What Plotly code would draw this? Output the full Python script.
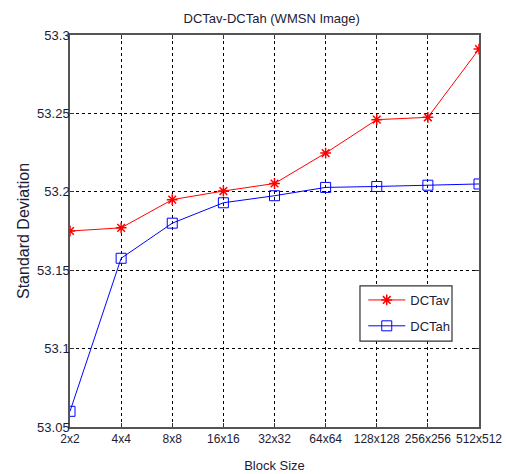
import plotly.graph_objects as go

block_sizes = ["2x2", "4x4", "8x8", "16x16", "32x32", "64x64", "128x128", "256x256", "512x512"]
dctav = [53.175, 53.177, 53.195, 53.2005, 53.2053, 53.2247, 53.246, 53.2475, 53.291]
dctah = [53.060, 53.1576, 53.180, 53.193, 53.1975, 53.2028, 53.2034, 53.2042, 53.2050]
y_ticks = [53.05, 53.1, 53.15, 53.2, 53.25, 53.3]
y_tick_text = ["53.05", "53.1", "53.15", "53.2", "53.25", "53.3"]

font_family = "Liberation Sans, Arial, sans-serif"
txt = "#1c1c38"

fig = go.Figure()
fig.add_trace(go.Scatter(
    x=block_sizes, y=dctav, name="DCTav", mode="lines+markers", legend="legend",
    line=dict(color="#ff0000", width=1),
    marker=dict(symbol="asterisk-open", size=9, color="#ff0000", line=dict(color="#ff0000", width=1.5)),
))
fig.add_trace(go.Scatter(
    x=block_sizes, y=dctah, name="DCTah", mode="lines+markers", legend="legend2",
    line=dict(color="#0000ff", width=1),
    marker=dict(symbol="square-open", size=10, color="#0000ff", line=dict(color="#0000ff", width=1)),
))

leg_common = dict(xanchor="left", yanchor="middle", bgcolor="rgba(0,0,0,0)", borderwidth=0,
                  font=dict(family=font_family, size=13, color=txt), itemwidth=37)

fig.update_layout(
    width=506, height=474,
    margin=dict(l=70, r=27, t=35, b=47),
    paper_bgcolor="white", plot_bgcolor="white",
    font=dict(family=font_family, size=13, color=txt),
    title=dict(text="DCTav-DCTah (WMSN Image)", x=0.537, xanchor="center", y=0.962, yanchor="middle",
               font=dict(family=font_family, size=13, color=txt)),
    showlegend=True,
    legend=dict(x=0.717, y=0.324, **leg_common),
    legend2=dict(x=0.717, y=0.258, **leg_common),
    shapes=[dict(type="rect", xref="paper", yref="paper", x0=0.709, x1=0.934, y0=0.219, y1=0.36,
                 line=dict(color="#333333", width=1.2), fillcolor="white", layer="above")],
)
fig.update_xaxes(
    type="category", categoryorder="array", categoryarray=block_sizes,
    range=[0, 8], showgrid=True, gridcolor="#000000", griddash="3px,3px", gridwidth=1,
    showline=True, linecolor="#555555", linewidth=1.5, mirror="ticks",
    ticks="inside", ticklen=4, tickcolor="#333333", tickangle=0, automargin=False,
    title=dict(text="Block Size", standoff=16, font=dict(family=font_family, size=13)),
    tickfont=dict(family=font_family, size=12, color=txt), zeroline=False,
)
fig.update_yaxes(
    range=[53.05, 53.3], tickvals=y_ticks, ticktext=y_tick_text,
    showgrid=True, gridcolor="#000000", griddash="3px,3px", gridwidth=1,
    showline=True, linecolor="#555555", linewidth=1.5, mirror="ticks",
    ticks="inside", ticklen=4, tickcolor="#333333", automargin=False,
    ticklabelstandoff=-4,
    title=dict(text="Standard Deviation", standoff=4, font=dict(family=font_family, size=16)),
    tickfont=dict(family=font_family, size=13, color=txt), zeroline=False,
)

fig.write_html("out.html", post_script="document.body.style.margin='0';",
               config={"displayModeBar": False})
